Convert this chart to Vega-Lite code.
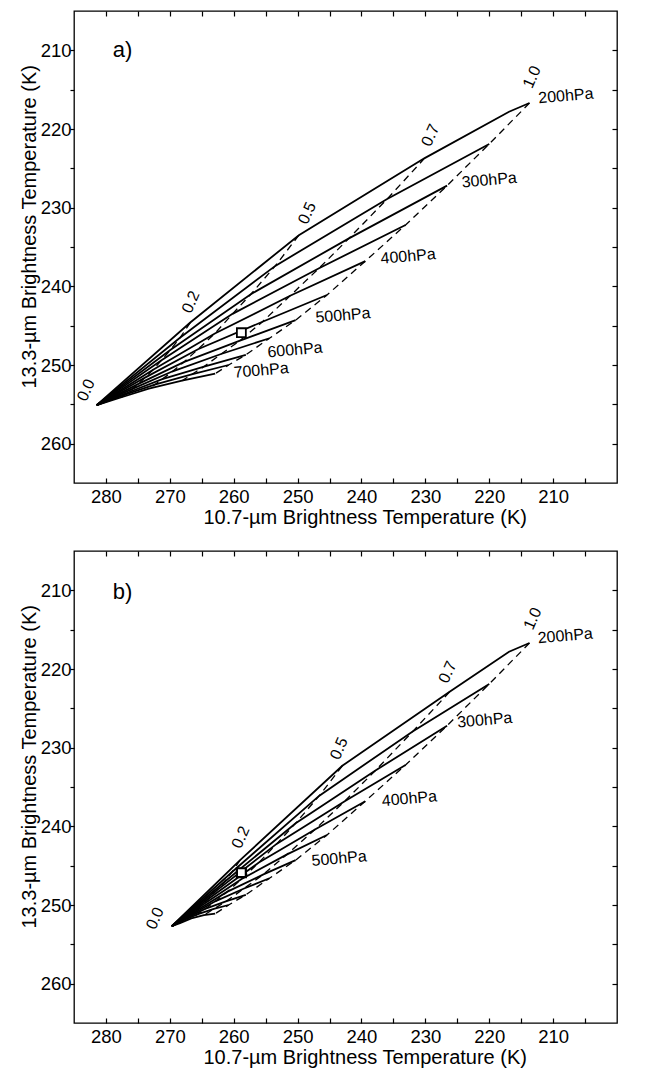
{
  "$schema": "https://vega.github.io/schema/vega-lite/v6.json",
  "background": "white",
  "padding": {"left": 18, "top": 9, "right": 10, "bottom": 0},
  "spacing": 21,
  "config": {
    "font": "Liberation Sans",
    "view": {"stroke": "black", "strokeWidth": 1.3},
    "axis": {
      "labelFont": "Liberation Sans", "titleFont": "Liberation Sans",
      "labelColor": "black", "titleColor": "black", "tickColor": "black",
      "tickWidth": 1.2, "domain": false, "grid": false,
      "labelFontSize": 18.5, "titleFontSize": 20, "titleFontWeight": "normal",
      "labelOverlap": false, "labelFlush": false
    },
    "text": {"font": "Liberation Sans", "color": "black"}
  },
  "datasets": {
    "curves": [
      {"pn":"a","p":200,"e":0,"x":281.45,"y":255.1},{"pn":"a","p":200,"e":0.2,"x":266.8,"y":244.6},{"pn":"a","p":200,"e":0.5,"x":249.8,"y":233.5},{"pn":"a","p":200,"e":0.7,"x":230.1,"y":223.7},{"pn":"a","p":200,"e":0.9,"x":216.9,"y":217.8},{"pn":"a","p":200,"e":1,"x":213.7,"y":216.7},
      {"pn":"a","p":250,"e":0,"x":281.45,"y":255.1},{"pn":"a","p":250,"e":0.2,"x":268.36,"y":246.5},{"pn":"a","p":250,"e":0.5,"x":253.49,"y":237.4},{"pn":"a","p":250,"e":0.7,"x":235.98,"y":228.9},{"pn":"a","p":250,"e":1,"x":220.0,"y":221.9},
      {"pn":"a","p":300,"e":0,"x":281.45,"y":255.1},{"pn":"a","p":300,"e":0.2,"x":269.93,"y":248.1},{"pn":"a","p":300,"e":0.5,"x":257.32,"y":241.0},{"pn":"a","p":300,"e":0.7,"x":241.96,"y":233.9},{"pn":"a","p":300,"e":1,"x":226.6,"y":227.2},
      {"pn":"a","p":350,"e":0,"x":281.45,"y":255.1},{"pn":"a","p":350,"e":0.2,"x":271.3,"y":249.4},{"pn":"a","p":350,"e":0.5,"x":260.18,"y":243.5},{"pn":"a","p":350,"e":0.7,"x":246.64,"y":237.7},{"pn":"a","p":350,"e":1,"x":233.1,"y":232.2},
      {"pn":"a","p":400,"e":0,"x":281.45,"y":255.1},{"pn":"a","p":400,"e":0.2,"x":272.62,"y":250.6},{"pn":"a","p":400,"e":0.5,"x":262.95,"y":246.0},{"pn":"a","p":400,"e":0.7,"x":251.17,"y":241.2},{"pn":"a","p":400,"e":1,"x":239.4,"y":236.8},
      {"pn":"a","p":450,"e":0,"x":281.45,"y":255.1},{"pn":"a","p":450,"e":0.2,"x":273.88,"y":251.6},{"pn":"a","p":450,"e":0.5,"x":265.59,"y":248.0},{"pn":"a","p":450,"e":0.7,"x":255.49,"y":244.5},{"pn":"a","p":450,"e":1,"x":245.4,"y":241.1},
      {"pn":"a","p":500,"e":0,"x":281.45,"y":255.1},{"pn":"a","p":500,"e":0.2,"x":274.91,"y":252.4},{"pn":"a","p":500,"e":0.5,"x":267.74,"y":249.6},{"pn":"a","p":500,"e":0.7,"x":259.02,"y":246.9},{"pn":"a","p":500,"e":1,"x":250.3,"y":244.3},
      {"pn":"a","p":550,"e":0,"x":281.45,"y":255.1},{"pn":"a","p":550,"e":0.2,"x":275.77,"y":253.0},{"pn":"a","p":550,"e":0.5,"x":269.55,"y":250.8},{"pn":"a","p":550,"e":0.7,"x":261.97,"y":248.6},{"pn":"a","p":550,"e":1,"x":254.4,"y":246.6},
      {"pn":"a","p":600,"e":0,"x":281.45,"y":255.1},{"pn":"a","p":600,"e":0.2,"x":276.55,"y":253.5},{"pn":"a","p":600,"e":0.5,"x":271.18,"y":251.8},{"pn":"a","p":600,"e":0.7,"x":264.64,"y":250.2},{"pn":"a","p":600,"e":1,"x":258.1,"y":248.7},
      {"pn":"a","p":650,"e":0,"x":281.45,"y":255.1},{"pn":"a","p":650,"e":0.2,"x":277.11,"y":253.8},{"pn":"a","p":650,"e":0.5,"x":272.36,"y":252.5},{"pn":"a","p":650,"e":0.7,"x":266.58,"y":251.2},{"pn":"a","p":650,"e":1,"x":260.8,"y":250.0},
      {"pn":"a","p":700,"e":0,"x":281.45,"y":255.1},{"pn":"a","p":700,"e":0.2,"x":277.55,"y":254.1},{"pn":"a","p":700,"e":0.5,"x":273.29,"y":253.0},{"pn":"a","p":700,"e":0.7,"x":268.09,"y":252.0},{"pn":"a","p":700,"e":1,"x":262.9,"y":251.1},
      {"pn":"b","p":200,"e":0,"x":269.7,"y":252.7},{"pn":"b","p":200,"e":0.2,"x":259.0,"y":244.3},{"pn":"b","p":200,"e":0.5,"x":243.0,"y":232.3},{"pn":"b","p":200,"e":0.7,"x":226.2,"y":222.9},{"pn":"b","p":200,"e":0.9,"x":216.9,"y":217.8},{"pn":"b","p":200,"e":1,"x":213.7,"y":216.7},
      {"pn":"b","p":250,"e":0,"x":269.7,"y":252.7},{"pn":"b","p":250,"e":0.2,"x":260.26,"y":245.8},{"pn":"b","p":250,"e":0.5,"x":246.59,"y":236.1},{"pn":"b","p":250,"e":0.7,"x":231.93,"y":227.9},{"pn":"b","p":250,"e":1,"x":220.0,"y":221.9},
      {"pn":"b","p":300,"e":0,"x":269.7,"y":252.7},{"pn":"b","p":300,"e":0.2,"x":261.51,"y":247.1},{"pn":"b","p":300,"e":0.5,"x":250.3,"y":239.6},{"pn":"b","p":300,"e":0.7,"x":237.81,"y":232.9},{"pn":"b","p":300,"e":1,"x":226.6,"y":227.2},
      {"pn":"b","p":350,"e":0,"x":269.7,"y":252.7},{"pn":"b","p":350,"e":0.2,"x":262.75,"y":248.2},{"pn":"b","p":350,"e":0.5,"x":253.23,"y":242.2},{"pn":"b","p":350,"e":0.7,"x":242.62,"y":236.8},{"pn":"b","p":350,"e":1,"x":233.1,"y":232.2},
      {"pn":"b","p":400,"e":0,"x":269.7,"y":252.7},{"pn":"b","p":400,"e":0.2,"x":263.94,"y":249.2},{"pn":"b","p":400,"e":0.5,"x":256.06,"y":244.6},{"pn":"b","p":400,"e":0.7,"x":247.28,"y":240.4},{"pn":"b","p":400,"e":1,"x":239.4,"y":236.8},
      {"pn":"b","p":450,"e":0,"x":269.7,"y":252.7},{"pn":"b","p":450,"e":0.2,"x":265.08,"y":250.1},{"pn":"b","p":450,"e":0.5,"x":258.76,"y":246.7},{"pn":"b","p":450,"e":0.7,"x":251.72,"y":243.6},{"pn":"b","p":450,"e":1,"x":245.4,"y":241.1},
      {"pn":"b","p":500,"e":0,"x":269.7,"y":252.7},{"pn":"b","p":500,"e":0.2,"x":266.01,"y":250.8},{"pn":"b","p":500,"e":0.5,"x":260.97,"y":248.3},{"pn":"b","p":500,"e":0.7,"x":255.34,"y":246.1},{"pn":"b","p":500,"e":1,"x":250.3,"y":244.3},
      {"pn":"b","p":550,"e":0,"x":269.7,"y":252.7},{"pn":"b","p":550,"e":0.2,"x":266.79,"y":251.3},{"pn":"b","p":550,"e":0.5,"x":262.81,"y":249.5},{"pn":"b","p":550,"e":0.7,"x":258.38,"y":247.9},{"pn":"b","p":550,"e":1,"x":254.4,"y":246.6},
      {"pn":"b","p":600,"e":0,"x":269.7,"y":252.7},{"pn":"b","p":600,"e":0.2,"x":267.5,"y":251.7},{"pn":"b","p":600,"e":0.5,"x":264.48,"y":250.5},{"pn":"b","p":600,"e":0.7,"x":261.12,"y":249.5},{"pn":"b","p":600,"e":1,"x":258.1,"y":248.7},
      {"pn":"b","p":650,"e":0,"x":269.7,"y":252.7},{"pn":"b","p":650,"e":0.2,"x":268.01,"y":252.0},{"pn":"b","p":650,"e":0.5,"x":265.7,"y":251.2},{"pn":"b","p":650,"e":0.7,"x":263.11,"y":250.5},{"pn":"b","p":650,"e":1,"x":260.8,"y":250.0},
      {"pn":"b","p":700,"e":0,"x":269.7,"y":252.7},{"pn":"b","p":700,"e":0.2,"x":268.41,"y":252.3},{"pn":"b","p":700,"e":0.5,"x":266.64,"y":251.7},{"pn":"b","p":700,"e":0.7,"x":264.67,"y":251.3},{"pn":"b","p":700,"e":1,"x":262.9,"y":251.1}
    ],
    "labels": [
      {"pn":"a","k":"eps","t":"0.0","x":283.1,"y":253.2},{"pn":"a","k":"eps","t":"0.2","x":266.7,"y":242.0},{"pn":"a","k":"eps","t":"0.5","x":248.5,"y":230.7},{"pn":"a","k":"eps","t":"0.7","x":229.2,"y":220.8},{"pn":"a","k":"eps","t":"1.0","x":213.3,"y":213.4},
      {"pn":"b","k":"eps","t":"0.0","x":272.3,"y":251.7},{"pn":"b","k":"eps","t":"0.2","x":258.9,"y":241.4},{"pn":"b","k":"eps","t":"0.5","x":243.5,"y":230.1},{"pn":"b","k":"eps","t":"0.7","x":226.5,"y":220.4},{"pn":"b","k":"eps","t":"1.0","x":213.2,"y":213.6},
      {"pn":"a","k":"pres","t":"200hPa","x":212.3,"y":216.1},{"pn":"a","k":"pres","t":"300hPa","x":224.3,"y":226.8},{"pn":"a","k":"pres","t":"400hPa","x":237.0,"y":236.5},{"pn":"a","k":"pres","t":"500hPa","x":247.2,"y":244.0},{"pn":"a","k":"pres","t":"600hPa","x":254.7,"y":248.4},{"pn":"a","k":"pres","t":"700hPa","x":260.0,"y":251.0},
      {"pn":"b","k":"pres","t":"200hPa","x":212.4,"y":216.1},{"pn":"b","k":"pres","t":"300hPa","x":225.0,"y":226.8},{"pn":"b","k":"pres","t":"400hPa","x":236.8,"y":236.8},{"pn":"b","k":"pres","t":"500hPa","x":247.8,"y":244.4},
      {"pn":"a","k":"tag","t":"a)","x":277.4,"y":209.9},{"pn":"b","k":"tag","t":"b)","x":277.4,"y":210.2}
    ],
    "obs": [
      {"pn":"a","x":258.8,"y":245.9},{"pn":"b","x":258.8,"y":245.9}
    ]
  },
  "vconcat": [
    {
      "width": 543, "height": 472,
      "resolve": {"axis": {"x": "independent", "y": "independent"}},
      "layer": [
        {
          "data": {"name": "curves"},
          "transform": [{"filter": {"field": "pn", "equal": "a"}}],
          "mark": {"type": "line", "color": "black", "strokeWidth": 1.8},
          "encoding": {
            "x": {"field": "x", "type": "quantitative", "scale": {"domain": [200, 285], "reverse": true, "nice": false, "zero": false},
              "axis": {"values": [280,275,270,265,260,255,250,245,240,235,230,225,220,215,210,205], "labelExpr": "datum.value % 10 === 0 ? datum.label : ''", "tickSize": -5, "labelPadding": 9, "title": "10.7-µm Brightness Temperature (K)", "titleX": 290.7, "titleY": 40, "titleBaseline": "alphabetic", "titleAlign": "center"}},
            "y": {"field": "y", "type": "quantitative", "scale": {"domain": [205, 265], "reverse": true, "nice": false, "zero": false},
              "axis": {"values": [210,215,220,225,230,235,240,245,250,255,260], "labelExpr": "datum.value % 10 === 0 ? datum.label : ''", "tickSize": 4, "labelPadding": -1, "title": "13.3-µm Brightness Temperature (K)", "titleX": -39, "titleY": 215.3, "titleBaseline": "alphabetic", "titleAlign": "center", "titleAngle": -90}},
            "detail": {"field": "p"},
            "order": {"field": "e"}
          }
        },
        {
          "data": {"name": "curves"},
          "transform": [{"filter": "datum.pn === 'a' && datum.e > 0 && datum.e !== 0.9"}],
          "mark": {"type": "line", "color": "black", "strokeWidth": 1.3, "strokeDash": [7, 5]},
          "encoding": {
            "x": {"field": "x", "type": "quantitative", "scale": {"domain": [200, 285], "reverse": true, "nice": false, "zero": false},
              "axis": {"orient": "top", "values": [280,275,270,265,260,255,250,245,240,235,230,225,220,215,210,205], "labels": false, "tickSize": -5, "title": null}},
            "y": {"field": "y", "type": "quantitative", "scale": {"domain": [205, 265], "reverse": true, "nice": false, "zero": false},
              "axis": {"orient": "right", "values": [210,215,220,225,230,235,240,245,250,255,260], "labels": false, "tickSize": -5, "title": null}},
            "detail": {"field": "e"},
            "order": {"field": "p"}
          }
        },
        {
          "data": {"name": "obs"},
          "transform": [{"filter": {"field": "pn", "equal": "a"}}],
          "mark": {"type": "point", "shape": "square", "size": 80, "filled": true, "fill": "white", "stroke": "black", "strokeWidth": 1.8, "opacity": 1},
          "encoding": {
            "x": {"field": "x", "type": "quantitative", "scale": {"domain": [200, 285], "reverse": true, "nice": false, "zero": false}, "axis": null},
            "y": {"field": "y", "type": "quantitative", "scale": {"domain": [205, 265], "reverse": true, "nice": false, "zero": false}, "axis": null}
          }
        },
        {
          "data": {"name": "labels"},
          "transform": [{"filter": "datum.pn === 'a' && datum.k === 'eps'"}],
          "mark": {"type": "text", "fontSize": 16, "angle": -66, "align": "center", "baseline": "middle"},
          "encoding": {
            "x": {"field": "x", "type": "quantitative", "scale": {"domain": [200, 285], "reverse": true, "nice": false, "zero": false}, "axis": null},
            "y": {"field": "y", "type": "quantitative", "scale": {"domain": [205, 265], "reverse": true, "nice": false, "zero": false}, "axis": null},
            "text": {"field": "t"}
          }
        },
        {
          "data": {"name": "labels"},
          "transform": [{"filter": "datum.pn === 'a' && datum.k === 'pres'"}],
          "mark": {"type": "text", "fontSize": 16, "angle": -5, "align": "left", "baseline": "middle"},
          "encoding": {
            "x": {"field": "x", "type": "quantitative", "scale": {"domain": [200, 285], "reverse": true, "nice": false, "zero": false}, "axis": null},
            "y": {"field": "y", "type": "quantitative", "scale": {"domain": [205, 265], "reverse": true, "nice": false, "zero": false}, "axis": null},
            "text": {"field": "t"}
          }
        },
        {
          "data": {"name": "labels"},
          "transform": [{"filter": "datum.pn === 'a' && datum.k === 'tag'"}],
          "mark": {"type": "text", "fontSize": 22, "align": "center", "baseline": "middle"},
          "encoding": {
            "x": {"field": "x", "type": "quantitative", "scale": {"domain": [200, 285], "reverse": true, "nice": false, "zero": false}, "axis": null},
            "y": {"field": "y", "type": "quantitative", "scale": {"domain": [205, 265], "reverse": true, "nice": false, "zero": false}, "axis": null},
            "text": {"field": "t"}
          }
        }
      ]
    },
    {
      "width": 543, "height": 472,
      "resolve": {"axis": {"x": "independent", "y": "independent"}},
      "layer": [
        {
          "data": {"name": "curves"},
          "transform": [{"filter": {"field": "pn", "equal": "b"}}],
          "mark": {"type": "line", "color": "black", "strokeWidth": 1.8},
          "encoding": {
            "x": {"field": "x", "type": "quantitative", "scale": {"domain": [200, 285], "reverse": true, "nice": false, "zero": false},
              "axis": {"values": [280,275,270,265,260,255,250,245,240,235,230,225,220,215,210,205], "labelExpr": "datum.value % 10 === 0 ? datum.label : ''", "tickSize": -5, "labelPadding": 9, "title": "10.7-µm Brightness Temperature (K)", "titleX": 290.7, "titleY": 40, "titleBaseline": "alphabetic", "titleAlign": "center"}},
            "y": {"field": "y", "type": "quantitative", "scale": {"domain": [205, 265], "reverse": true, "nice": false, "zero": false},
              "axis": {"values": [210,215,220,225,230,235,240,245,250,255,260], "labelExpr": "datum.value % 10 === 0 ? datum.label : ''", "tickSize": 4, "labelPadding": -1, "title": "13.3-µm Brightness Temperature (K)", "titleX": -39, "titleY": 215.3, "titleBaseline": "alphabetic", "titleAlign": "center", "titleAngle": -90}},
            "detail": {"field": "p"},
            "order": {"field": "e"}
          }
        },
        {
          "data": {"name": "curves"},
          "transform": [{"filter": "datum.pn === 'b' && datum.e > 0 && datum.e !== 0.9"}],
          "mark": {"type": "line", "color": "black", "strokeWidth": 1.3, "strokeDash": [7, 5]},
          "encoding": {
            "x": {"field": "x", "type": "quantitative", "scale": {"domain": [200, 285], "reverse": true, "nice": false, "zero": false},
              "axis": {"orient": "top", "values": [280,275,270,265,260,255,250,245,240,235,230,225,220,215,210,205], "labels": false, "tickSize": -5, "title": null}},
            "y": {"field": "y", "type": "quantitative", "scale": {"domain": [205, 265], "reverse": true, "nice": false, "zero": false},
              "axis": {"orient": "right", "values": [210,215,220,225,230,235,240,245,250,255,260], "labels": false, "tickSize": -5, "title": null}},
            "detail": {"field": "e"},
            "order": {"field": "p"}
          }
        },
        {
          "data": {"name": "obs"},
          "transform": [{"filter": {"field": "pn", "equal": "b"}}],
          "mark": {"type": "point", "shape": "square", "size": 80, "filled": true, "fill": "white", "stroke": "black", "strokeWidth": 2.2, "opacity": 1},
          "encoding": {
            "x": {"field": "x", "type": "quantitative", "scale": {"domain": [200, 285], "reverse": true, "nice": false, "zero": false}, "axis": null},
            "y": {"field": "y", "type": "quantitative", "scale": {"domain": [205, 265], "reverse": true, "nice": false, "zero": false}, "axis": null}
          }
        },
        {
          "data": {"name": "labels"},
          "transform": [{"filter": "datum.pn === 'b' && datum.k === 'eps'"}],
          "mark": {"type": "text", "fontSize": 16, "angle": -66, "align": "center", "baseline": "middle"},
          "encoding": {
            "x": {"field": "x", "type": "quantitative", "scale": {"domain": [200, 285], "reverse": true, "nice": false, "zero": false}, "axis": null},
            "y": {"field": "y", "type": "quantitative", "scale": {"domain": [205, 265], "reverse": true, "nice": false, "zero": false}, "axis": null},
            "text": {"field": "t"}
          }
        },
        {
          "data": {"name": "labels"},
          "transform": [{"filter": "datum.pn === 'b' && datum.k === 'pres'"}],
          "mark": {"type": "text", "fontSize": 16, "angle": -5, "align": "left", "baseline": "middle"},
          "encoding": {
            "x": {"field": "x", "type": "quantitative", "scale": {"domain": [200, 285], "reverse": true, "nice": false, "zero": false}, "axis": null},
            "y": {"field": "y", "type": "quantitative", "scale": {"domain": [205, 265], "reverse": true, "nice": false, "zero": false}, "axis": null},
            "text": {"field": "t"}
          }
        },
        {
          "data": {"name": "labels"},
          "transform": [{"filter": "datum.pn === 'b' && datum.k === 'tag'"}],
          "mark": {"type": "text", "fontSize": 22, "align": "center", "baseline": "middle"},
          "encoding": {
            "x": {"field": "x", "type": "quantitative", "scale": {"domain": [200, 285], "reverse": true, "nice": false, "zero": false}, "axis": null},
            "y": {"field": "y", "type": "quantitative", "scale": {"domain": [205, 265], "reverse": true, "nice": false, "zero": false}, "axis": null},
            "text": {"field": "t"}
          }
        }
      ]
    }
  ]
}
